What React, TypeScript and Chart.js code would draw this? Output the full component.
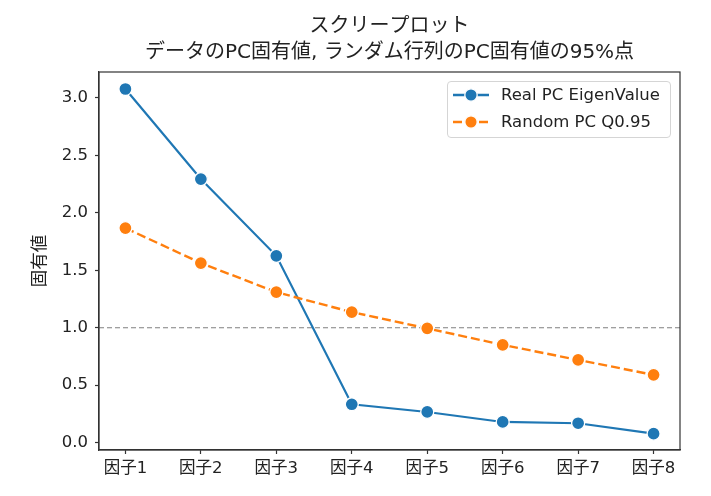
import React, { useEffect, useRef } from 'react';
import { Chart, registerables } from 'chart.js';

Chart.register(...registerables);

const factors = ['因子1', '因子2', '因子3', '因子4', '因子5', '因子6', '因子7', '因子8'];
const realEigen = [3.078, 2.294, 1.626, 0.334, 0.267, 0.18, 0.169, 0.078];
const randomQ95 = [1.868, 1.563, 1.31, 1.136, 0.995, 0.851, 0.72, 0.59];
const yTicks = [0, 0.5, 1, 1.5, 2, 2.5, 3];
const threshold = 1.0;

const titleLines = ['スクリープロット', 'データのPC固有値, ランダム行列のPC固有値の95%点'];
const yTitle = '固有値';
const seriesNames = ['Real PC EigenValue', 'Random PC Q0.95'];

const FONT = '"DejaVu Sans", "Noto Sans CJK JP", sans-serif';
const BLUE = '#1f77b4';
const ORANGE = '#ff7f0e';
const AXIS = '#333333';

// frame + 1.0 reference line, drawn under the series
const framePlugin = {
  id: 'frame',
  beforeDatasetsDraw(chart: any) {
    const { ctx, chartArea, scales } = chart;
    const y = scales.y.getPixelForValue(threshold);
    ctx.save();
    ctx.strokeStyle = '#808080';
    ctx.lineWidth = 1.2;
    ctx.setLineDash([5, 3]);
    ctx.beginPath();
    ctx.moveTo(chartArea.left, y);
    ctx.lineTo(chartArea.right, y);
    ctx.stroke();
    ctx.restore();
  },
  afterDraw(chart: any) {
    const { ctx, chartArea } = chart;
    ctx.save();
    ctx.strokeStyle = AXIS;
    ctx.lineWidth = 1.2;
    ctx.strokeRect(chartArea.left, chartArea.top, chartArea.right - chartArea.left, chartArea.bottom - chartArea.top);
    ctx.restore();
  },
};

const ScreePlot: React.FC = () => {
  const canvasRef = useRef<HTMLCanvasElement | null>(null);
  const chartInstance = useRef<Chart | null>(null);

  useEffect(() => {
    if (!canvasRef.current) return;
    if (chartInstance.current) chartInstance.current.destroy();

    chartInstance.current = new Chart(canvasRef.current, {
      type: 'line',
      data: {
        datasets: [
          {
            label: seriesNames[0],
            data: realEigen.map((v, i) => ({ x: i, y: v })),
            borderColor: BLUE,
            backgroundColor: BLUE,
            borderWidth: 2.2,
            pointRadius: 6.5,
            pointBorderColor: '#ffffff',
            pointBackgroundColor: BLUE,
            pointBorderWidth: 1.3,
            order: 2,
          },
          {
            label: seriesNames[1],
            data: randomQ95.map((v, i) => ({ x: i, y: v })),
            borderColor: ORANGE,
            backgroundColor: ORANGE,
            borderWidth: 2.4,
            borderDash: [9, 4],
            pointRadius: 6.5,
            pointBorderColor: '#ffffff',
            pointBackgroundColor: ORANGE,
            pointBorderWidth: 1.3,
            order: 1,
          },
        ],
      },
      options: {
        animation: false,
        responsive: true,
        maintainAspectRatio: false,
        layout: { padding: { left: 0, right: 31, top: 0, bottom: 0 } },
        plugins: {
          legend: { display: false },
          tooltip: { enabled: false },
          title: {
            display: true,
            fullSize: false,
            text: titleLines,
            color: '#222',
            font: { family: FONT, size: 20, weight: 'normal', lineHeight: '26px' },
            padding: { top: 14, bottom: 6 },
          },
        },
        scales: {
          x: {
            type: 'linear',
            min: -0.35,
            max: 7.35,
            afterBuildTicks: (scale: any) => {
              scale.ticks = factors.map((_, i) => ({ value: i }));
            },
            afterFit: (scale: any) => {
              scale.height = 46;
            },
            ticks: {
              callback: (v: any) => factors[v] ?? '',
              color: '#222',
              font: { family: FONT, size: 16.5 },
              padding: 5,
              maxRotation: 0,
              autoSkip: false,
            },
            grid: { drawOnChartArea: false, drawTicks: true, tickLength: 4, color: AXIS, tickWidth: 1.2 },
            border: { display: true, color: AXIS, width: 1.2 },
          },
          y: {
            type: 'linear',
            min: -0.064,
            max: 3.226,
            afterBuildTicks: (scale: any) => {
              scale.ticks = yTicks.map((v) => ({ value: v }));
            },
            afterFit: (scale: any) => {
              scale.width = 99;
            },
            ticks: {
              callback: (v: any) => Number(v).toFixed(1),
              color: '#222',
              font: { family: FONT, size: 16.5 },
              padding: 7,
            },
            title: {
              display: true,
              text: yTitle,
              color: '#222',
              font: { family: FONT, size: 17.5 },
              padding: { top: 29.5, bottom: 0 },
            },
            grid: { drawOnChartArea: false, drawTicks: true, tickLength: 4, color: AXIS, tickWidth: 1.2 },
            border: { display: true, color: AXIS, width: 1.2 },
          },
        },
      },
      plugins: [framePlugin],
    } as any);

    return () => {
      chartInstance.current?.destroy();
      chartInstance.current = null;
    };
  }, []);

  return <canvas ref={canvasRef}></canvas>;
};

const Legend: React.FC = () => {
  const rows = [
    { name: seriesNames[0], color: BLUE, dash: undefined as string | undefined, y: 14 },
    { name: seriesNames[1], color: ORANGE, dash: '9 4', y: 41 },
  ];
  return (
    <div
      style={{
        position: 'absolute',
        left: 447,
        top: 81,
        width: 224,
        height: 57,
        border: '1px solid #d5d5d5',
        borderRadius: 4,
        background: 'rgba(255,255,255,0.8)',
        boxSizing: 'border-box',
        fontFamily: FONT,
        fontSize: 16.5,
        color: '#222',
      }}
    >
      <svg width={40} height={57} style={{ position: 'absolute', left: 4, top: -1 }}>
        {rows.map((r) => (
          <g key={r.name}>
            <line x1={1} x2={37} y1={r.y} y2={r.y} stroke={r.color} strokeWidth={2.3} strokeDasharray={r.dash} />
            <circle cx={19} cy={r.y} r={6.2} fill={r.color} stroke="#fff" strokeWidth={1.3} />
          </g>
        ))}
      </svg>
      {rows.map((r) => (
        <span
          key={r.name}
          style={{ position: 'absolute', left: 53, top: r.y - 11, lineHeight: '20px', whiteSpace: 'nowrap' }}
        >
          {r.name}
        </span>
      ))}
    </div>
  );
};

export default function App() {
  return (
    <div style={{ position: 'fixed', left: 0, top: 0, width: 711, height: 496, background: '#fff' }}>
      <ScreePlot />
      <Legend />
    </div>
  );
}
